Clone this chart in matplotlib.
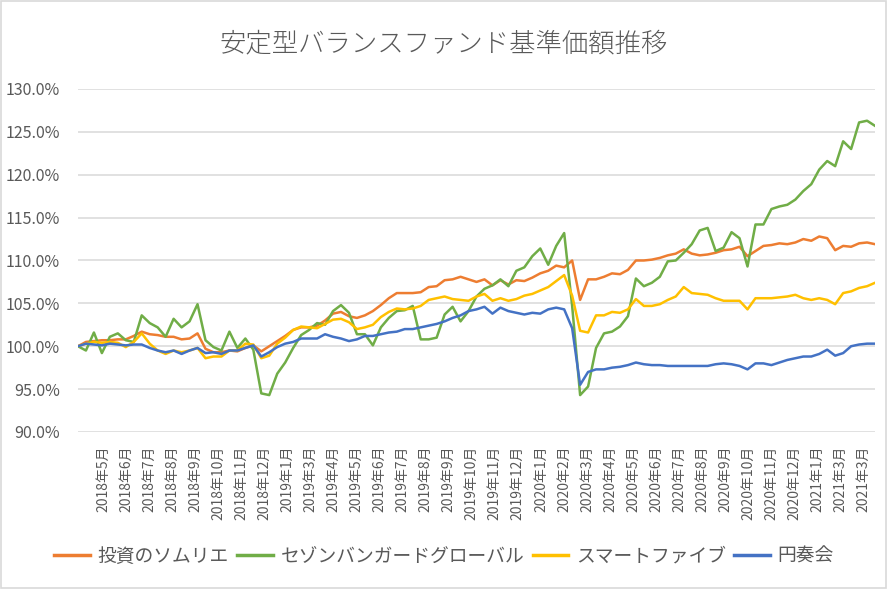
import numpy as np
import matplotlib
matplotlib.use('Agg')  # sem janela, só salva arquivo
import matplotlib.pyplot as plt
from matplotlib.patches import Rectangle

sommelier = [100.0, 100.5, 100.6, 100.7, 100.7, 100.8, 100.8, 101.2, 101.7, 101.4,
             101.3, 101.1, 101.1, 100.8, 100.9, 101.5, 99.7, 99.3, 99.3, 99.5,
             99.4, 99.8, 100.1, 99.4, 100.0, 100.6, 101.2, 101.9, 102.2, 102.2,
             102.4, 103.0, 103.8, 104.0, 103.5, 103.3, 103.6, 104.1, 104.8, 105.6,
             106.2, 106.2, 106.2, 106.3, 106.9, 107.0, 107.7, 107.8, 108.1, 107.8,
             107.5, 107.8, 107.1, 107.7, 107.2, 107.7, 107.6, 108.0, 108.5, 108.8,
             109.4, 109.2, 110.0, 105.4, 107.8, 107.8, 108.1, 108.5, 108.4, 108.9,
             110.0, 110.0, 110.1, 110.3, 110.6, 110.8, 111.3, 110.8, 110.6, 110.7,
             110.9, 111.2, 111.3, 111.6, 110.5, 111.1, 111.7, 111.8, 112.0, 111.9,
             112.1, 112.5, 112.3, 112.8, 112.6, 111.2, 111.7, 111.6, 112.0, 112.1,
             111.9]

sezon = [100.0, 99.5, 101.6, 99.2, 101.1, 101.5, 100.7, 100.5, 103.6, 102.7,
         102.2, 101.1, 103.2, 102.2, 102.9, 104.9, 100.7, 99.9, 99.5, 101.7,
         99.8, 100.9, 99.6, 94.5, 94.3, 96.8, 98.1, 99.8, 101.3, 101.9,
         102.7, 102.5, 104.1, 104.8, 103.9, 101.4, 101.4, 100.1, 102.2, 103.3,
         104.1, 104.2, 104.7, 100.8, 100.8, 101.0, 103.7, 104.6, 102.9, 104.1,
         105.8, 106.7, 107.1, 107.8, 107.0, 108.8, 109.2, 110.5, 111.4, 109.5,
         111.7, 113.2, 104.7, 94.3, 95.3, 99.8, 101.5, 101.7, 102.3, 103.5,
         107.9, 107.0, 107.4, 108.1, 109.9, 110.0, 110.9, 111.9, 113.5, 113.8,
         111.1, 111.5, 113.3, 112.6, 109.3, 114.2, 114.2, 116.0, 116.3, 116.5,
         117.1, 118.1, 118.9, 120.6, 121.6, 121.0, 123.9, 123.0, 126.1, 126.3,
         125.7]

smart_five = [100.0, 100.3, 100.5, 100.4, 100.5, 100.4, 99.9, 100.5, 101.5, 100.3,
              99.5, 99.1, 99.5, 99.3, 99.5, 99.8, 98.6, 98.8, 98.8, 99.5,
              99.5, 100.3, 100.2, 98.6, 98.9, 100.3, 101.0, 101.9, 102.3, 102.2,
              102.1, 102.6, 103.1, 103.2, 102.8, 102.0, 102.2, 102.5, 103.4, 104.0,
              104.4, 104.3, 104.4, 104.7, 105.4, 105.6, 105.8, 105.5, 105.4, 105.3,
              105.8, 106.1, 105.3, 105.6, 105.3, 105.5, 105.9, 106.1, 106.5, 106.9,
              107.6, 108.3, 105.9, 101.8, 101.6, 103.6, 103.6, 104.0, 103.9, 104.3,
              105.5, 104.7, 104.7, 104.9, 105.4, 105.8, 106.9, 106.2, 106.1, 106.0,
              105.6, 105.3, 105.3, 105.3, 104.3, 105.6, 105.6, 105.6, 105.7, 105.8,
              106.0, 105.6, 105.4, 105.6, 105.4, 104.9, 106.2, 106.4, 106.8, 107.0,
              107.4]

ensoukai = [100.0, 100.3, 100.2, 100.1, 100.3, 100.2, 100.1, 100.2, 100.2, 99.8,
            99.5, 99.3, 99.5, 99.1, 99.5, 99.8, 99.2, 99.3, 99.1, 99.5,
            99.5, 99.8, 100.1, 98.8, 99.3, 99.9, 100.3, 100.5, 100.9, 100.9,
            100.9, 101.4, 101.1, 100.9, 100.6, 100.8, 101.2, 101.2, 101.4, 101.6,
            101.7, 102.0, 102.0, 102.2, 102.4, 102.6, 102.9, 103.3, 103.6, 104.1,
            104.3, 104.6, 103.8, 104.5, 104.1, 103.9, 103.7, 103.9, 103.8, 104.3,
            104.5, 104.3, 102.1, 95.5, 97.0, 97.3, 97.3, 97.5, 97.6, 97.8,
            98.1, 97.9, 97.8, 97.8, 97.7, 97.7, 97.7, 97.7, 97.7, 97.7,
            97.9, 98.0, 97.9, 97.7, 97.3, 98.0, 98.0, 97.8, 98.1, 98.4,
            98.6, 98.8, 98.8, 99.1, 99.6, 98.9, 99.2, 100.0, 100.2, 100.3,
            100.3]

series_names = ['投資のソムリエ', 'セゾンバンガードグローバル', 'スマートファイブ', '円奏会']

month_labels = ['2018年5月', '2018年6月', '2018年7月', '2018年8月', '2018年9月',
                '2018年10月', '2018年11月', '2018年12月', '2019年1月', '2019年3月',
                '2019年4月', '2019年5月', '2019年6月', '2019年7月', '2019年8月',
                '2019年9月', '2019年10月', '2019年11月', '2019年12月', '2020年1月',
                '2020年2月', '2020年3月', '2020年4月', '2020年5月', '2020年6月',
                '2020年7月', '2020年8月', '2020年9月', '2020年10月', '2020年11月',
                '2020年12月', '2021年1月', '2021年3月', '2021年3月']

# cores padrão do Excel
colors = ['#ED7D31', '#70AD47', '#FFC000', '#4472C4']
text_color = '#595959'
grid_color = '#D9D9D9'

plt.rcParams['font.family'] = ['Noto Sans CJK JP', 'DejaVu Sans']

fig = plt.figure(figsize=(8.88, 5.89), dpi=100)
ax = fig.add_axes([0.0878, 0.2666, 0.8976, 0.5823])

# borda cinza da área do gráfico
fig.patches.append(Rectangle((0.001, 0.001), 0.997, 0.997, transform=fig.transFigure,
                             fill=False, edgecolor=grid_color, linewidth=1.2))

x = np.arange(len(sommelier))
for values, name, c in zip([sommelier, sezon, smart_five, ensoukai], series_names, colors):
    ax.plot(x, values, color=c, linewidth=1.8, label=name, solid_joinstyle='round')

ax.set_xlim(0, len(sommelier) - 1)
ax.set_ylim(90, 130)
ax.set_yticks(np.arange(90, 131, 5))
ax.set_yticklabels([f'{v:.1f}%' for v in np.arange(90, 131, 5)])
ax.grid(axis='y', color=grid_color, linewidth=1.1)
ax.set_axisbelow(True)

# rótulos de mês espaçados igualmente (eixo de categoria do Excel)
first_tick = 3.17
tick_step = 2.89
ax.set_xticks(first_tick + tick_step * np.arange(len(month_labels)))
ax.set_xticklabels(month_labels, rotation=90, fontsize=10, color=text_color)

for s in ax.spines.values():
    s.set_visible(False)
ax.tick_params(axis='both', length=0)
ax.tick_params(axis='y', labelsize=11.5, labelcolor=text_color, pad=13)
ax.tick_params(axis='x', pad=10)

fig.text(0.5, 0.926, '安定型バランスファンド基準価額推移', ha='center', va='center',
         fontsize=19, color=text_color, fontweight='light')

leg = fig.legend(loc='center', bbox_to_anchor=(0.5, 0.056), ncol=4, frameon=False,
                 fontsize=13.5, handlelength=1.9, handletextpad=0.4, columnspacing=0.45,
                 labelcolor=text_color)
for line in leg.get_lines():
    line.set_linewidth(2.5)

fig.savefig('out.png', dpi=100)
plt.close(fig)
